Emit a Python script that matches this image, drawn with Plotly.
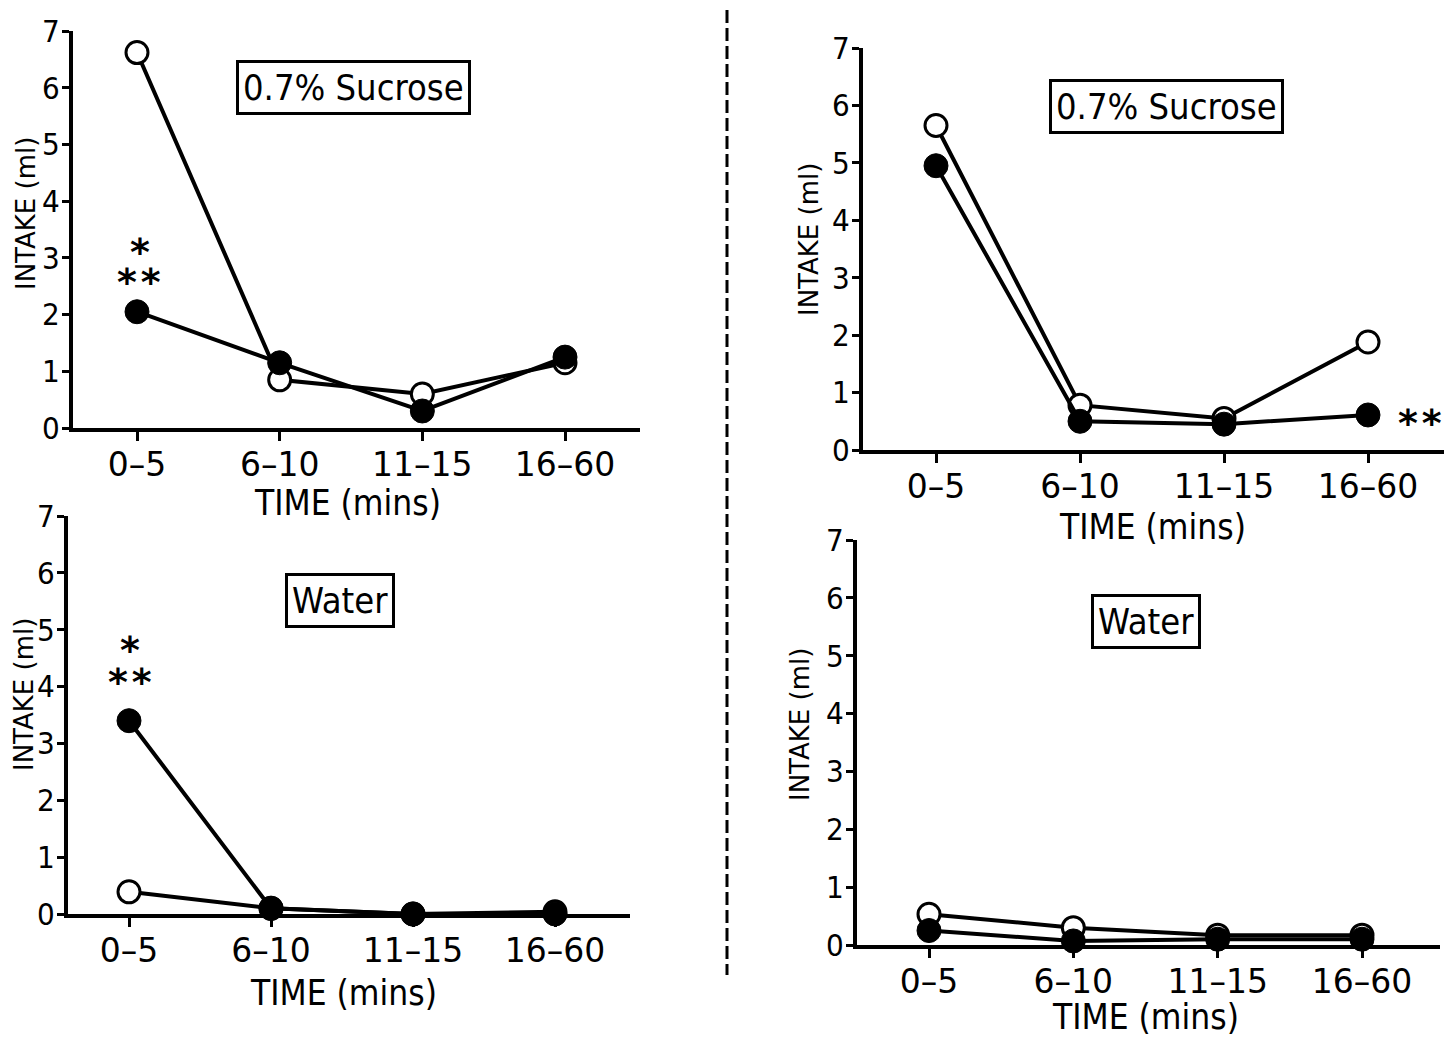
import plotly.graph_objects as go

# Time bins (minutes) shared by every panel
time_bins = ["0–5", "6–10", "11–15", "16–60"]
y_ticks = [0, 1, 2, 3, 4, 5, 6, 7]

# Intake (ml) per bin; "open" and "filled" groups
sucrose_left_open = [6.62, 0.85, 0.60, 1.15]
sucrose_left_filled = [2.05, 1.15, 0.30, 1.25]
water_left_open = [0.39, 0.10, 0.00, 0.04]
water_left_filled = [3.40, 0.10, 0.00, 0.00]

sucrose_right_open = [5.65, 0.78, 0.55, 1.88]
sucrose_right_filled = [4.95, 0.50, 0.45, 0.61]
water_right_open = [0.53, 0.30, 0.17, 0.17]
water_right_filled = [0.25, 0.07, 0.10, 0.10]

panel_titles = ["0.7% Sucrose", "0.7% Sucrose", "Water", "Water"]

W, H = 1444, 1041
FONT = "DejaVu Sans Condensed, Liberation Sans Narrow, DejaVu Sans, sans-serif"
FONT_WIDE = "DejaVu Sans, sans-serif"


def px(x):
    return x / W


def py(y):
    return 1 - y / H


# panel geometry in pixels: y-axis x, right end, first/last category x, y of 0, y of 7
panels = [
    dict(ax=73, right=640, c0=137, c3=565, y0=428, y7=31),
    dict(ax=863, right=1444, c0=936, c3=1368, y0=450, y7=48),
    dict(ax=68, right=630, c0=129, c3=555, y0=914, y7=516),
    dict(ax=857, right=1440, c0=929, c3=1362, y0=945, y7=540),
]
series = [
    (sucrose_left_open, sucrose_left_filled),
    (sucrose_right_open, sucrose_right_filled),
    (water_left_open, water_left_filled),
    (water_right_open, water_right_filled),
]

fig = go.Figure()
layout_axes = {}
for i, (p, (op, fi)) in enumerate(zip(panels, series), start=1):
    sfx = "" if i == 1 else str(i)
    xa, ya = "x" + sfx, "y" + sfx
    step = (p["c3"] - p["c0"]) / 3
    xr = [(p["ax"] - p["c0"]) / step, (p["right"] - p["c0"]) / step]
    line_style = dict(color="black", width=4)
    fig.add_trace(go.Scatter(
        x=time_bins, y=op, mode="lines+markers", xaxis=xa, yaxis=ya,
        line=line_style, cliponaxis=False,
        marker=dict(size=22, color="white", line=dict(color="black", width=3)),
        showlegend=False))
    fig.add_trace(go.Scatter(
        x=time_bins, y=fi, mode="lines+markers", xaxis=xa, yaxis=ya,
        line=line_style, cliponaxis=False,
        marker=dict(size=24, color="black", line=dict(color="black", width=1)),
        showlegend=False))
    layout_axes["xaxis" + sfx] = dict(
        domain=[px(p["ax"]), min(px(p["right"]), 1.0)], anchor=ya,
        type="category", categoryorder="array", categoryarray=time_bins,
        range=xr, showgrid=False, zeroline=False, showline=True,
        automargin=False, linecolor="black", linewidth=4, ticks="outside",
        ticklen=9, tickwidth=3, tickcolor="black", ticklabelstandoff=-5,
        tickfont=dict(family=FONT_WIDE, size=33, color="black"))
    layout_axes["yaxis" + sfx] = dict(
        domain=[py(p["y0"]), py(p["y7"])], anchor=xa, range=[0, 7],
        tickvals=y_ticks, showgrid=False, zeroline=False, showline=True,
        automargin=False, linecolor="black", linewidth=4, ticks="outside",
        ticklen=7, tickwidth=3, tickcolor="black", ticklabelstandoff=-4,
        tickfont=dict(family=FONT, size=31, color="black"))

fig.update_layout(**layout_axes)

ann = []
# boxed panel labels
for (cx, cy), t in zip([(353, 88), (1166, 107), (340, 600), (1146, 621)], panel_titles):
    ann.append(dict(x=px(cx), y=py(cy), xref="paper", yref="paper", text=t,
                    showarrow=False, font=dict(family=FONT, size=36, color="black"),
                    bordercolor="black", borderwidth=3, borderpad=4,
                    bgcolor="white", xanchor="center", yanchor="middle"))
# axis titles
for cx, cy in [(347, 503), (1152, 527), (343, 993), (1145, 1017)]:
    ann.append(dict(x=px(cx), y=py(cy), xref="paper", yref="paper",
                    text="TIME (mins)", showarrow=False,
                    font=dict(family=FONT, size=35, color="black"),
                    xanchor="center", yanchor="middle"))
for cx, cy in [(26, 214), (809, 240), (24, 695), (800, 725)]:
    ann.append(dict(x=px(cx), y=py(cy), xref="paper", yref="paper",
                    text="INTAKE (ml)", showarrow=False, textangle=-90,
                    font=dict(family=FONT_WIDE, size=26, color="black"),
                    xanchor="center", yanchor="middle"))
# significance markers
for cx, cy, t in [(140, 247, "*"), (139, 277, "*\u200a*"), (130, 645, "*"),
                  (130, 677, "*\u200a*"), (1420, 418, "*\u200a*")]:
    ann.append(dict(x=px(cx), y=py(cy + 5), xref="paper", yref="paper",
                    text="<b>" + t + "</b>", showarrow=False,
                    font=dict(family="DejaVu Sans", size=38, color="black"),
                    xanchor="center", yanchor="middle"))

fig.update_layout(
    annotations=ann,
    shapes=[dict(type="line", xref="paper", yref="paper",
                 x0=px(727), x1=px(727), y0=py(10), y1=py(975),
                 line=dict(color="black", width=3, dash="13px,5px"))],
    width=W, height=H, margin=dict(l=0, r=0, t=0, b=0),
    paper_bgcolor="white", plot_bgcolor="white",
    font=dict(family=FONT, color="black"),
)

fig.write_html("out.html")
